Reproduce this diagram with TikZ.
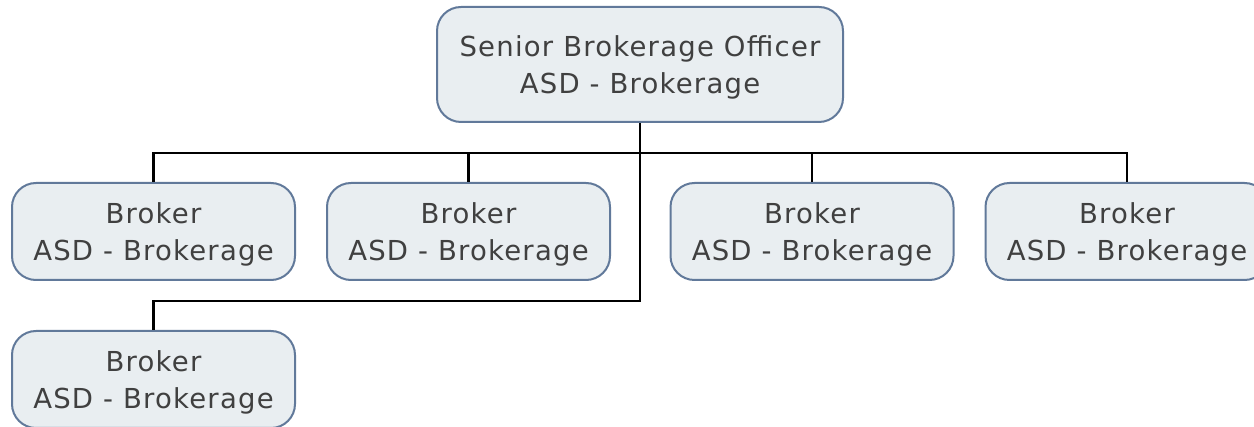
\documentclass[tikz,border=0pt]{standalone}
\usepackage{fontspec}
\setmainfont{DejaVu Sans}[LetterSpace=4.5]
\definecolor{boxfill}{HTML}{E9EEF1}
\definecolor{boxline}{HTML}{61799A}
\definecolor{txt}{HTML}{404040}
\tikzset{
  orgbox/.style={draw=boxline, fill=boxfill, line width=2pt, rounded corners=24pt,
    minimum width=283pt, minimum height=97pt, inner sep=0pt, align=center,
    text=txt, font={\fontsize{27.5}{37}\selectfont}, text depth=0pt},
  topbox/.style={orgbox, minimum width=406pt, minimum height=115pt},
  link/.style={draw=black, line width=2.4pt}
}
\begin{document}
\begin{tikzpicture}[x=1pt,y=-1pt]
\useasboundingbox (0,0) rectangle (1254,427);
\node[topbox] (top) at (640,64.5) {Senior Brokerage Officer\\ASD - Brokerage};
\node[orgbox] (c1) at (153.5,231.5) {Broker\\ASD - Brokerage};
\node[orgbox] (c2) at (468.5,231.5) {Broker\\ASD - Brokerage};
\node[orgbox] (c3) at (812,231.5) {Broker\\ASD - Brokerage};
\node[orgbox] (c4) at (1127,231.5) {Broker\\ASD - Brokerage};
\node[orgbox] (c5) at (153.5,379.5) {Broker\\ASD - Brokerage};
\coordinate (bus) at (640,153);
\coordinate (elbow) at (640,301);
\draw[link] (bus) -| (c1.north);
\draw[link] (bus) -| (c2.north);
\draw[link] (bus) -| (c3.north);
\draw[link] (bus) -| (c4.north);
\draw[link] (top.south) -- (elbow) -| (c5.north);
\end{tikzpicture}
\end{document}
